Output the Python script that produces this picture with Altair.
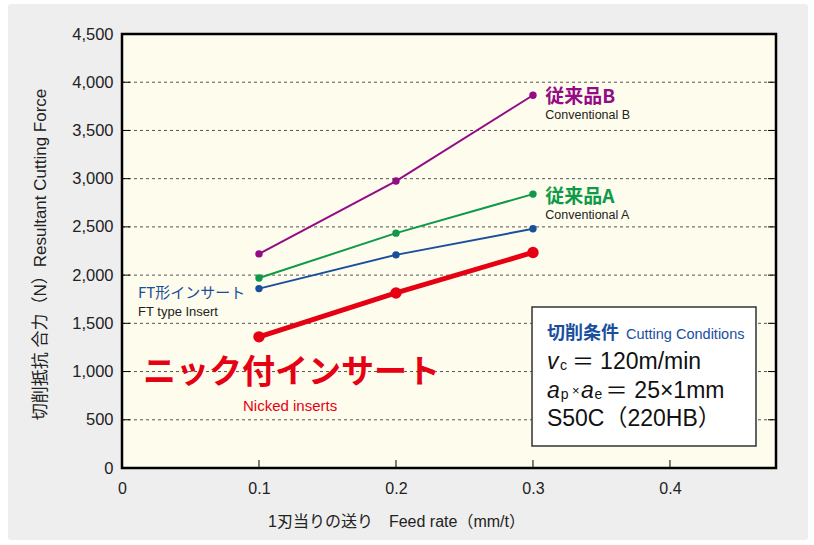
import altair as alt
import pandas as pd

# Feed rate per tooth (mm/t) and resultant cutting force (N)
feed = [0.1, 0.2, 0.3]
conv_b = [2220, 2975, 3865]
conv_a = [1970, 2435, 2840]
ft_type = [1860, 2210, 2480]
nicked = [1360, 1815, 2235]

series_names = ["従来品B", "従来品A", "FT形インサート", "ニック付インサート"]
series_values = [conv_b, conv_a, ft_type, nicked]
series_colors = ["#930b86", "#0f9a4a", "#1a4f9d", "#e60013"]
series_widths = [2, 2, 2, 5]
series_points = [55, 55, 55, 130]

y_ticks = list(range(0, 4501, 500))
x_ticks = [0, 0.1, 0.2, 0.3, 0.4]
X_MAX = 0.4774
Y_MAX = 4500

W, H = 654, 434
FONT = "Liberation Sans, Noto Sans CJK JP, sans-serif"
JP = "Noto Sans CJK JP, sans-serif"

xs = alt.Scale(domain=[0, X_MAX], nice=False, zero=False)
ys = alt.Scale(domain=[0, Y_MAX], nice=False, zero=False)

x_axis = alt.Axis(
    values=x_ticks, labelExpr="datum.value == 0 ? '0' : format(datum.value, '.1f')",
    grid=False, domain=False, ticks=False, labelPadding=12, labelFontSize=16,
    labelFont=FONT, labelColor="#222222", labelFlush=False,
    title="1刃当りの送り　Feed rate（mm/t）", titleFont=FONT, titleFontSize=16,
    titleFontWeight="normal", titleColor="#222222", titleX=274, titleY=53,
    titleAlign="center", titleBaseline="middle", zindex=2,
)
y_axis = alt.Axis(
    values=y_ticks, labelExpr="format(datum.value, ',')", grid=False, domain=False,
    ticks=False, labelPadding=9, labelFontSize=16.5, labelFont=FONT,
    labelColor="#222222", labelFlush=False,
    title="切削抵抗 合力（N）Resultant Cutting Force", titleFont=FONT, titleFontSize=17,
    titleFontWeight="normal", titleColor="#222222", titleX=-82, titleY=220,
    titleAngle=-90, titleAlign="center", titleBaseline="middle", zindex=2,
)


def X(field):
    return alt.X(field, scale=xs, axis=x_axis)


def Y(field):
    return alt.Y(field, scale=ys, axis=y_axis)


one = pd.DataFrame({"k": [0]})

# outer panel and plot background
panel = alt.Chart(one).mark_rect(color="#eeeeee", cornerRadius=3).encode(
    x=alt.value(-114), x2=alt.value(686), y=alt.value(-30), y2=alt.value(506)
)
plot_bg = alt.Chart(one).mark_rect(color="#fefcec").encode(
    x=alt.value(0), x2=alt.value(W), y=alt.value(0), y2=alt.value(H)
)

grid_df = pd.DataFrame({"v": y_ticks[1:-1]})
grid = alt.Chart(grid_df).mark_rule(color="#555555", strokeWidth=1, strokeDash=[3, 3]).encode(
    y=Y("v:Q"), x=alt.value(0), x2=alt.value(W)
)

ytick_df = pd.DataFrame({"v": y_ticks})
ticks_left = alt.Chart(ytick_df).mark_rule(color="#000000", strokeWidth=1).encode(
    y=Y("v:Q"), x=alt.value(0), x2=alt.value(8)
)
ticks_right = alt.Chart(ytick_df).mark_rule(color="#000000", strokeWidth=1).encode(
    y=Y("v:Q"), x=alt.value(W - 8), x2=alt.value(W)
)
xtick_df = pd.DataFrame({"v": x_ticks})
ticks_bottom = alt.Chart(xtick_df).mark_rule(color="#000000", strokeWidth=1).encode(
    x=X("v:Q"), y=alt.value(H - 8), y2=alt.value(H)
)

# one line + point layer per series
series_layers = []
for name, vals, col, sw, ps in zip(series_names, series_values, series_colors,
                                   series_widths, series_points):
    d = pd.DataFrame({"feed": feed, "force": vals, "series": name})
    base = alt.Chart(d).encode(x=X("feed:Q"), y=Y("force:Q"))
    series_layers.append(base.mark_line(color=col, strokeWidth=sw))
    series_layers.append(base.mark_circle(color=col, size=ps, opacity=1))


def label(text, x, y, col, size, weight="normal", style="normal", font=FONT):
    d = pd.DataFrame({"t": [text], "x": [x], "y": [y]})
    return alt.Chart(d).mark_text(
        align="left", baseline="middle", color=col, fontSize=size,
        fontWeight=weight, fontStyle=style, font=font,
    ).encode(x=X("x:Q"), y=Y("y:Q"), text="t:N")


labels = [
    label("従来品B", 0.309, 3847, series_colors[0], 19, "bold", font=JP),
    label("Conventional B", 0.309, 3660, "#222222", 12.5),
    label("従来品A", 0.309, 2810, series_colors[1], 19, "bold", font=JP),
    label("Conventional A", 0.309, 2623, "#222222", 12.5),
    label("FT形インサート", 0.0117, 1815, series_colors[2], 15, font=JP),
    label("FT type Insert", 0.0117, 1618, "#222222", 13),
    label("ニック付インサート", 0.0153, 985, series_colors[3], 33, "bold", font=JP),
    label("Nicked inserts", 0.0883, 643, series_colors[3], 15),
]

box_df = pd.DataFrame({"x": [0.2993], "x2": [0.4628], "y": [228], "y2": [1669]})
box = alt.Chart(box_df).mark_rect(fill="#ffffff", stroke="#333333", strokeWidth=1.5).encode(
    x=X("x:Q"), x2="x2:Q", y=Y("y:Q"), y2="y2:Q",
)

BLUE = series_colors[2]
INK = "#111111"
box_text = [
    label("切削条件", 0.3102, 1389, BLUE, 18, "bold", font=JP),
    label("Cutting Conditions", 0.3679, 1379, BLUE, 14.5),
    label("v", 0.3102, 1099, INK, 23, style="italic"),
    label("c", 0.3197, 1055, INK, 14),
    label("＝", 0.3285, 1099, INK, 22, font=JP),
    label("120m/min", 0.3490, 1099, INK, 23),
    label("a", 0.3102, 798, INK, 23, style="italic"),
    label("p", 0.3202, 755, INK, 14),
    label("×", 0.3285, 798, INK, 13),
    label("a", 0.3350, 798, INK, 23, style="italic"),
    label("e", 0.3450, 755, INK, 14),
    label("＝", 0.3530, 798, INK, 22, font=JP),
    label("25×1mm", 0.3740, 798, INK, 23),
    label("S50C（220HB）", 0.3102, 508, INK, 23),
]

border = alt.Chart(one).mark_rect(fill="transparent", stroke="#000000", strokeWidth=2.5).encode(
    x=alt.value(0), x2=alt.value(W), y=alt.value(0), y2=alt.value(H)
)

chart = alt.layer(
    panel, plot_bg, grid, ticks_left, ticks_right, ticks_bottom,
    *series_layers, *labels, box, *box_text, border,
).properties(
    width=W, height=H,
    autosize=alt.AutoSizeParams(type="none"),
    padding={"left": 122, "top": 34, "right": 38, "bottom": 77},
    background="#ffffff",
).configure_view(strokeWidth=0)

chart.save("out.html", embed_options={"renderer": "svg", "actions": False})
